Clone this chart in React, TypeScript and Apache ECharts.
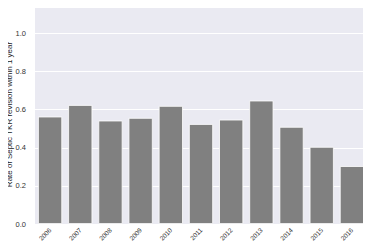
import React, { useEffect, useRef } from "react";
import * as echarts from "echarts";

const years = ["2006", "2007", "2008", "2009", "2010", "2011", "2012", "2013", "2014", "2015", "2016"];
const rates = [0.564, 0.625, 0.543, 0.557, 0.62, 0.525, 0.548, 0.648, 0.51, 0.405, 0.304];
const yTicks = [0, 0.2, 0.4, 0.6, 0.8, 1.0];

const FONT = "Liberation Sans";

export default function App() {
  const ref = useRef<HTMLDivElement>(null);
  useEffect(() => {
    const chart = echarts.init(ref.current!, null, { renderer: "svg" });
    chart.setOption({
      animation: false,
      backgroundColor: "#ffffff",
      grid: {
        left: 35,
        right: 4,
        top: 5,
        bottom: 28,
        backgroundColor: "#EAEAF2",
        show: true,
        borderWidth: 0,
        containLabel: false,
        outerBoundsMode: "none",
      },
      xAxis: {
        type: "category",
        data: years,
        axisLine: { show: false },
        axisTick: { show: false },
        axisLabel: { rotate: 45, fontSize: 6.5, color: "#333", fontFamily: FONT, margin: 5 },
      },
      yAxis: {
        type: "value",
        min: 0,
        max: 1.15,
        interval: 0.2,
        axisLine: { show: false },
        axisTick: { show: false },
        splitLine: { lineStyle: { color: "#ffffff", width: 1 } },
        axisLabel: {
          fontSize: 7.5,
          color: "#333",
          fontFamily: FONT,
          margin: 9,
          formatter: (v: number) => (yTicks.some((t) => Math.abs(t - v) < 1e-6) ? v.toFixed(1) : ""),
        },
        name: "Rate of Septic TKR revision within 1 year",
        nameLocation: "middle",
        nameGap: 22,
        nameMoveOverlap: false,
        nameTextStyle: { fontSize: 8, color: "#222", fontFamily: FONT },
      },
      series: [
        {
          type: "bar",
          data: rates,
          barCategoryGap: "20%",
          itemStyle: { color: "#808080", borderColor: "#ffffff", borderWidth: 0.8 },
        },
      ],
    });
    return () => chart.dispose();
  }, []);
  return <div ref={ref} style={{ width: 371, height: 252, margin: -8 }} />;
}
